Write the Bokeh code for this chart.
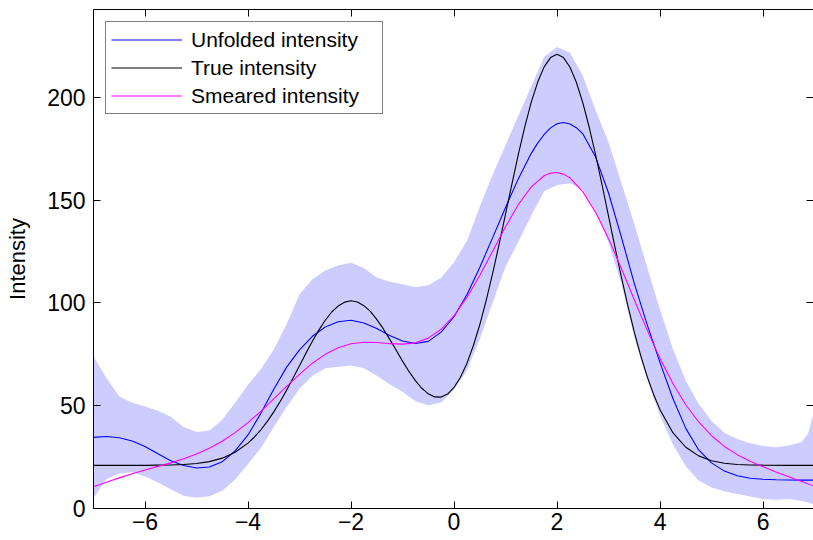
from bokeh.plotting import figure
from bokeh.models import LinearAxis, FixedTicker, Range1d, Legend, LegendItem
from bokeh.embed import file_html
from bokeh.resources import INLINE

FONT = "Liberation Sans"

# ---------------- data ----------------
X_TICKS = [-6, -4, -2, 0, 2, 4, 6]
X_TICK_LABELS = ["\u22126", "\u22124", "\u22122", "0", "2", "4", "6"]
Y_TICKS = [0, 50, 100, 150, 200]
Y_TICK_LABELS = ["0", "50", "100", "150", "200"]
Y_LABEL = "Intensity"
SERIES_NAMES = ["Unfolded intensity", "True intensity", "Smeared intensity"]

unf_x = [-7.0, -6.75, -6.5, -6.25, -6.0, -5.75, -5.5, -5.25, -5.0, -4.75, -4.5, -4.25,
         -4.0, -3.75, -3.5, -3.25, -3.0, -2.75, -2.5, -2.25, -2.0, -1.75, -1.5, -1.25,
         -1.0, -0.75, -0.5, -0.25, 0.0, 0.25, 0.5, 0.75, 1.0, 1.25, 1.5, 1.625, 1.75, 1.875,
         2.0, 2.125, 2.25, 2.375, 2.5, 2.75, 3.0, 3.25, 3.5, 3.75, 4.0, 4.25, 4.5, 4.75,
         5.0, 5.25, 5.5, 5.75, 6.0, 6.25, 6.5, 6.75, 7.0]
unfolded = [34.6, 35.0, 34.4, 32.8, 30.2, 26.6, 23.2, 20.9, 19.7, 20.2, 22.8, 28.0,
            35.8, 46.3, 58.0, 68.8, 77.2, 83.8, 88.3, 90.9, 91.6, 90.3, 87.6, 84.2,
            81.5, 80.3, 81.3, 85.8, 93.3, 104.0, 117.3, 131.8, 146.5, 160.5, 172.8, 177.8, 182.0, 185.2,
            187.2, 187.8, 187.1, 185.3, 182.3, 171.0, 153.5, 132.0, 109.5, 89.5, 71.0, 53.5, 39.0, 28.5,
            22.2, 18.2, 15.9, 14.7, 14.2, 14.0, 13.9, 13.8, 13.8]

sm_x = [-7.0, -6.75, -6.5, -6.25, -6.0, -5.75, -5.5, -5.25, -5.0, -4.75, -4.5, -4.25,
        -4.0, -3.75, -3.5, -3.25, -3.0, -2.75, -2.5, -2.25, -2.0, -1.75, -1.5, -1.25,
        -1.0, -0.75, -0.5, -0.25, 0.0, 0.25, 0.5, 0.75, 1.0, 1.25, 1.5, 1.75, 1.875, 2.0,
        2.125, 2.25, 2.5, 2.75, 3.0, 3.25, 3.5, 3.75, 4.0, 4.25, 4.5, 4.75, 5.0, 5.25, 5.5,
        5.75, 6.0, 6.25, 6.5, 6.75, 7.0]
smeared = [10.6, 12.8, 14.9, 16.9, 18.7, 20.5, 22.2, 24.2, 26.5, 29.3, 32.7, 36.9,
           41.8, 47.3, 53.3, 59.4, 65.3, 70.7, 75.0, 78.2, 80.2, 80.9, 80.8, 80.2,
           80.0, 80.6, 82.9, 87.2, 93.8, 102.7, 113.4, 125.2, 137.1, 147.9, 156.5, 161.9, 163.2, 163.5,
           162.7, 160.9, 154.2, 144.1, 131.3, 116.8, 101.6, 86.8, 73.0, 60.8, 50.5, 42.1, 35.4, 30.2, 26.2,
           23.0, 20.3, 17.8, 15.4, 13.1, 10.8]

true_x = [-7.0, -6.5, -6.0, -5.75, -5.5, -5.25, -5.0, -4.75, -4.5, -4.25,
          -4.0, -3.875, -3.75, -3.625, -3.5, -3.375, -3.25, -3.125, -3.0, -2.875, -2.75, -2.625,
          -2.5, -2.375, -2.25, -2.125, -2.0, -1.875, -1.75, -1.625, -1.5, -1.375, -1.25, -1.125,
          -1.0, -0.875, -0.75, -0.625, -0.5, -0.375, -0.25, -0.125, 0.0, 0.125, 0.25, 0.375,
          0.5, 0.625, 0.75, 0.875, 1.0, 1.125, 1.25, 1.375, 1.5, 1.625, 1.75, 1.875,
          2.0, 2.125, 2.25, 2.375, 2.5, 2.625, 2.75, 2.875, 3.0, 3.125, 3.25, 3.375,
          3.5, 3.625, 3.75, 3.875, 4.0, 4.25, 4.5, 4.75, 5.0, 5.25, 5.5, 5.75, 6.0, 6.5, 7.0]
true_y = [21.0, 21.0, 21.0, 21.1, 21.2, 21.4, 21.9, 22.8, 24.5, 27.4,
          31.8, 34.8, 38.3, 42.4, 47.0, 52.1, 57.6, 63.5, 69.5, 75.6, 81.4, 86.8,
          91.6, 95.6, 98.5, 100.4, 101.1, 100.5, 98.7, 95.9, 92.0, 87.5, 82.4, 77.1,
          71.7, 66.7, 62.2, 58.5, 55.8, 54.3, 54.2, 55.7, 58.9, 63.9, 70.6, 79.2,
          89.4, 101.3, 114.4, 128.5, 143.2, 158.0, 172.4, 185.8, 197.7, 207.5, 214.9, 219.4,
          221.0, 219.4, 214.8, 207.4, 197.5, 185.5, 172.0, 157.4, 142.3, 127.2, 112.6, 98.7,
          85.9, 74.4, 64.3, 55.5, 48.1, 36.9, 29.8, 25.6, 23.2, 22.0, 21.4, 21.2, 21.1, 21.0, 21.0]

band_x = [-7.0, -6.75, -6.5, -6.25, -6.0, -5.75, -5.5, -5.25, -5.0, -4.75, -4.5, -4.25,
          -4.0, -3.75, -3.5, -3.25, -3.0, -2.75, -2.5, -2.25, -2.0, -1.75, -1.5, -1.25,
          -1.0, -0.75, -0.5, -0.25, 0.0, 0.25, 0.5, 0.75, 1.0, 1.25, 1.5, 1.75, 2.0,
          2.25, 2.5, 2.75, 3.0, 3.25, 3.5, 3.75, 4.0, 4.25, 4.5, 4.75, 5.0, 5.25, 5.5,
          5.75, 6.0, 6.25, 6.5, 6.75, 6.875, 7.0]
band_upper = [74.0, 63.5, 54.5, 51.5, 49.6, 47.6, 44.6, 39.6, 37.2, 37.9, 43.2, 51.4,
              60.2, 67.8, 77.4, 89.6, 104.2, 111.5, 115.8, 118.2, 119.6, 117.0, 112.4, 110.3,
              109.1, 107.6, 108.6, 112.3, 119.8, 130.2, 146.8, 162.5, 176.8, 191.2, 205.4, 219.8, 224.6,
              221.8, 210.6, 193.8, 178.2, 158.4, 138.6, 117.4, 96.8, 77.6, 62.2, 50.8, 42.6, 36.8, 33.8,
              31.8, 30.4, 29.8, 30.6, 32.4, 36.5, 48.0]
band_lower = [5.0, 14.2, 17.0, 17.6, 15.6, 12.6, 9.4, 6.2, 5.2, 5.9, 8.6, 14.1,
              21.6, 29.4, 39.6, 49.4, 58.4, 64.6, 68.2, 69.0, 69.6, 68.2, 64.6, 60.4,
              56.8, 52.2, 50.2, 51.6, 57.8, 67.2, 82.4, 100.2, 117.6, 129.8, 142.6, 154.4, 157.4,
              158.2, 155.0, 145.2, 129.4, 109.2, 83.2, 62.4, 45.2, 31.2, 20.6, 13.6, 10.2, 8.4, 7.0,
              5.8, 4.6, 4.2, 4.6, 3.6, 2.9, 2.0]

# ---------------- figure ----------------
p = figure(width=813, height=540, output_backend="svg", toolbar_location=None,
           x_range=Range1d(-7, 6.98), y_range=Range1d(0, 242.8),
           x_axis_location=None, y_axis_location=None,
           min_border_left=93, min_border_right=0, min_border_top=9, min_border_bottom=32)
p.outline_line_color = None
p.background_fill_color = "white"
p.border_fill_color = "white"
for g in p.grid:
    g.visible = False


def make_axis(ticks, labels, font_size, standoff, show_line=True):
    ax = LinearAxis(ticker=FixedTicker(ticks=ticks))
    ax.major_label_overrides = {t: l for t, l in zip(ticks, labels)}
    ax.major_tick_in = 7
    ax.major_tick_out = 0
    ax.minor_tick_in = 0
    ax.minor_tick_out = 0
    ax.axis_line_color = "black" if show_line else None
    ax.axis_line_width = 1
    ax.major_tick_line_color = "black"
    ax.major_tick_line_width = 1
    ax.major_label_text_font = FONT
    ax.major_label_text_font_size = font_size
    ax.major_label_text_color = "black"
    ax.major_label_standoff = standoff
    return ax


bottom = make_axis(X_TICKS, X_TICK_LABELS, "23px", 4)
left = make_axis(Y_TICKS, Y_TICK_LABELS, "23px", 8)
left.axis_label = Y_LABEL
left.axis_label_text_font = FONT
left.axis_label_text_font_size = "22px"
left.axis_label_text_font_style = "normal"
left.axis_label_text_color = "black"
left.axis_label_standoff = 14
top = make_axis(X_TICKS, [""] * len(X_TICKS), "0px", 0)
right = make_axis(Y_TICKS, [""] * len(Y_TICKS), "0px", 0, show_line=False)

p.add_layout(bottom, "below")
p.add_layout(left, "left")
p.add_layout(top, "above")
p.add_layout(right, "right")

p.varea(x=band_x, y1=band_lower, y2=band_upper, fill_color="#CCCCFF", fill_alpha=1.0)
r_unf = p.line(unf_x, unfolded, line_color="#0000FF", line_width=1.1)
r_true = p.line(true_x, true_y, line_color="black", line_width=1.1)
r_sm = p.line(sm_x, smeared, line_color="#FF00FF", line_width=1.1)

legend = Legend(items=[LegendItem(label=SERIES_NAMES[0], renderers=[r_unf]),
                       LegendItem(label=SERIES_NAMES[1], renderers=[r_true]),
                       LegendItem(label=SERIES_NAMES[2], renderers=[r_sm])],
                location="top_left", margin=12, padding=5, spacing=3,
                glyph_width=71, glyph_height=25, label_height=25, label_width=186,
                label_standoff=9, label_text_font=FONT, label_text_font_size="21px",
                label_text_color="black", border_line_color="black", border_line_width=1,
                background_fill_color="white", background_fill_alpha=1.0)
p.add_layout(legend)

open("out.html", "w").write(file_html(p, INLINE))
